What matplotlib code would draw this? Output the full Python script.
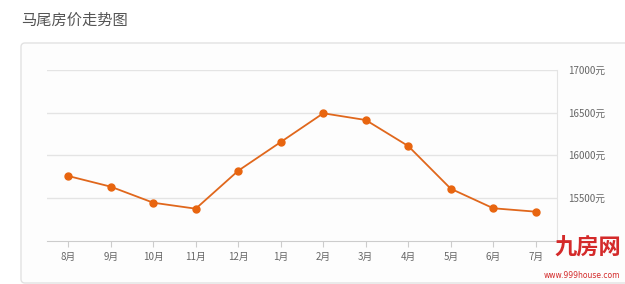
import matplotlib
matplotlib.use("Agg")
import matplotlib.pyplot as plt
from matplotlib.patches import FancyBboxPatch

plt.rcParams['font.family'] = ['Noto Sans CJK SC', 'DejaVu Sans']

title = "马尾房价走势图"
months = ["8月", "9月", "10月", "11月", "12月", "1月", "2月", "3月", "4月", "5月", "6月", "7月"]
prices = [15758, 15633, 15445, 15375, 15820, 16156, 16493, 16414, 16109, 15609, 15380, 15340]
yticks = [15500, 16000, 16500, 17000]
ytick_labels = [f"{v}元" for v in yticks]

W, H = 625, 284
fig = plt.figure(figsize=(W / 100, H / 100), dpi=100)
fig.patch.set_facecolor("white")

# panel box (background)
bg = fig.add_axes([0, 0, 1, 1], zorder=-5)
bg.set_axis_off()
bg.set_xlim(0, W)
bg.set_ylim(H, 0)
box = FancyBboxPatch((21, 43), 640, 240,
                     boxstyle="round,pad=0,rounding_size=4",
                     facecolor="#fdfdfd", edgecolor="#e2e2e2", linewidth=1.0)
bg.add_patch(box)

fig.text(21 / W, 1 - 20 / H, title, fontsize=11, color="#555555",
         ha="left", va="center")

ax = fig.add_axes([47 / W, 1 - 240.7 / H, 510 / W, 170.7 / H], zorder=1)
ax.set_facecolor("none")
x = list(range(len(months)))
ax.plot(x, prices, color="#E0671C", linewidth=1.3, marker="o", markersize=5,
        markerfacecolor="#E8650F", markeredgecolor="#E8650F", zorder=3,
        clip_on=False)
ax.set_xlim(-0.5, len(months) - 0.5)
ax.set_ylim(15000, 17000)
ax.set_xticks(x)
ax.set_xticklabels(months)
ax.set_yticks(yticks)
ax.set_yticklabels(ytick_labels)
ax.yaxis.tick_right()
ax.grid(axis="y", color="#e4e4e4", linewidth=1.0)
ax.set_axisbelow(True)
for s in ["top", "left"]:
    ax.spines[s].set_visible(False)
ax.spines["right"].set_color("#e4e4e4")
ax.spines["bottom"].set_color("#cccccc")
ax.tick_params(axis="y", length=0, pad=8, labelsize=7, labelcolor="#666666")
ax.tick_params(axis="x", length=4, color="#cccccc", pad=4, labelsize=7,
               labelcolor="#666666")

# watermark
fig.text(588 / W, 1 - 247 / H, "九房网", fontsize=16, color="#D42A2A",
         ha="center", va="center", fontweight="bold", zorder=5)
fig.text(582 / W, 1 - 275 / H, "www.999house.com", fontsize=5.5,
         color="#D42A2A", ha="center", va="center", family=["DejaVu Sans"],
         zorder=5)

fig.savefig("out.png", dpi=100)
